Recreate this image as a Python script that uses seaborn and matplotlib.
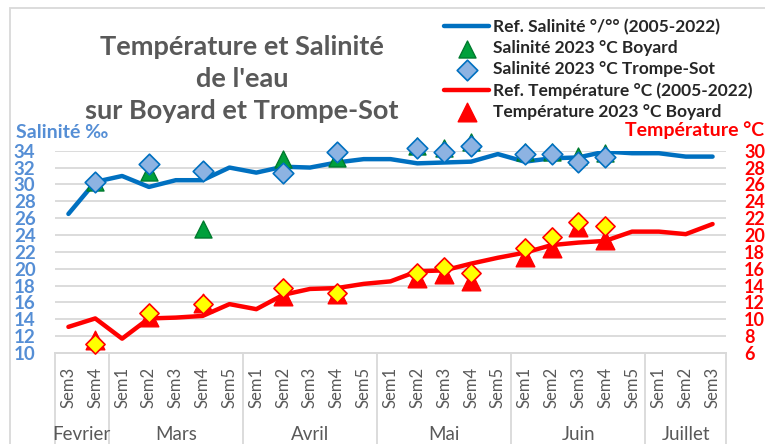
import pandas as pd
import matplotlib.pyplot as plt
import matplotlib.transforms as mtransforms
from matplotlib.patches import Rectangle
import seaborn as sns

# month groups and week labels (x axis)
months = ["Fevrier", "Mars", "Avril", "Mai", "Juin", "Juillet"]
month_weeks = [["Sem3", "Sem4"],
               ["Sem1", "Sem2", "Sem3", "Sem4", "Sem5"],
               ["Sem1", "Sem2", "Sem3", "Sem4", "Sem5"],
               ["Sem1", "Sem2", "Sem3", "Sem4", "Sem5"],
               ["Sem1", "Sem2", "Sem3", "Sem4", "Sem5"],
               ["Sem1", "Sem2", "Sem3"]]

# reference curves 2005-2022 (one value per week)
ref_sal = [26.5, 30.3, 31.0, 29.7, 30.5, 30.5, 32.0, 31.4, 32.1, 32.0, 32.6, 33.0, 33.0,
           32.5, 32.6, 32.7, 33.6, 32.7, 33.1, 33.2, 33.9, 33.7, 33.7, 33.3, 33.3]
ref_temp = [9.1, 10.1, 7.7, 10.1, 10.2, 10.4, 11.8, 11.2, 12.9, 13.6, 13.7, 14.2, 14.5,
            15.7, 15.8, 16.6, 17.3, 17.9, 18.8, 19.1, 19.3, 20.4, 20.4, 20.1, 21.3]

# 2023 measurements (week index of each sample)
obs_idx = [1, 3, 5, 8, 10, 13, 14, 15, 17, 18, 19, 20]
sal_boyard = [30.3, 31.5, 24.7, 33.0, 33.1, 34.6, 34.3, 35.0, 33.9, 33.9, 33.4, 33.7]
sal_trompe = [30.3, 32.4, 31.6, 31.3, 33.8, 34.3, 33.9, 34.6, 33.6, 33.6, 32.7, 33.3]
temp_boyard = [7.6, 10.3, 11.9, 12.8, 13.0, 14.9, 15.4, 14.5, 17.35, 18.4, 21.0, 19.4]
temp_trompe = [7.1, 10.8, 11.8, 13.75, 13.1, 15.45, 16.2, 15.45, 18.5, 19.8, 21.6, 21.1]

week_labels = [w for ws in month_weeks for w in ws]
ref = pd.DataFrame({"x": range(len(week_labels)), "sal": ref_sal, "temp": ref_temp})
obs = pd.DataFrame({"x": obs_idx, "sal_b": sal_boyard, "sal_t": sal_trompe,
                    "temp_b": temp_boyard, "temp_t": temp_trompe})

sns.set_theme(style="white")
plt.rcParams["font.family"] = ["Lato", "DejaVu Sans"]

BLUE = "#0070C0"
LBLUE = "#558ED5"
RED = "#FF0000"
GRID = "#D9D9D9"

fig = plt.figure(figsize=(7.65, 4.44), dpi=100)
fig.subplots_adjust(left=55 / 765, right=726 / 765, bottom=1 - 353 / 444, top=1 - 150.7 / 444)
ax = fig.add_subplot(111)
ax2 = ax.twinx()

# salinity (left axis)
sns.lineplot(data=ref, x="x", y="sal", ax=ax, color=BLUE, lw=3.2,
             label="Ref. Salinité °/°° (2005-2022)", zorder=3)
sns.scatterplot(data=obs, x="x", y="sal_b", ax=ax, marker="^", s=150, color="#00A03C",
                edgecolor="#007A2E", linewidth=1, label="Salinité 2023 °C Boyard",
                zorder=4, clip_on=False)
sns.scatterplot(data=obs, x="x", y="sal_t", ax=ax, marker="D", s=110, color="#8DB3E2",
                edgecolor=BLUE, linewidth=1.2, label="Salinité 2023 °C Trompe-Sot",
                zorder=5, clip_on=False)

# temperature (right axis)
sns.lineplot(data=ref, x="x", y="temp", ax=ax2, color=RED, lw=3.2,
             label="Ref. Température °C (2005-2022)", zorder=3)
sns.scatterplot(data=obs, x="x", y="temp_b", ax=ax2, marker="^", s=180, color=RED,
                edgecolor=RED, linewidth=1, label="Température 2023 °C Boyard",
                zorder=4, clip_on=False)
sns.scatterplot(data=obs, x="x", y="temp_t", ax=ax2, marker="D", s=95, color="#FFFF00",
                edgecolor=RED, linewidth=1.2, zorder=5, clip_on=False, legend=False)

h1, l1 = ax.get_legend_handles_labels()
h2, l2 = ax2.get_legend_handles_labels()
for a in (ax, ax2):
    if a.get_legend() is not None:
        a.get_legend().remove()

# axes ranges and ticks
ax.set_xlim(-0.5, len(week_labels) - 0.5)
ax.set_ylim(10, 34)
ax2.set_ylim(6, 30)
ax.set_yticks(range(10, 35, 2))
ax2.set_yticks(range(6, 31, 2))
ax.set_xticks(range(len(week_labels)))
ax.set_xticklabels(week_labels, rotation=90, color="#595959", fontsize=12, va="top")
ax.tick_params(axis="x", length=0, pad=10)
ax.tick_params(axis="y", length=0, pad=14, labelsize=13.5, labelcolor=LBLUE)
ax2.tick_params(axis="y", length=0, pad=13, labelsize=13, labelcolor=RED)
for lab in ax.get_yticklabels():
    lab.set_fontweight("bold")
for lab in ax2.get_yticklabels():
    lab.set_fontweight("bold")
ax.set_xlabel("")
ax.set_ylabel("")
ax2.set_ylabel("")

ax.yaxis.grid(True, color=GRID, lw=1.3)
ax.set_axisbelow(True)
for a in (ax, ax2):
    for side in ("top", "left", "right"):
        a.spines[side].set_visible(False)
    a.spines["bottom"].set_color(GRID)
    a.spines["bottom"].set_linewidth(1.3)
ax.patch.set_visible(False)

# month separators and labels below the axis
trans = mtransforms.blended_transform_factory(ax.transData, ax.transAxes)
start = -0.5
bounds = [start]
for m, ws in zip(months, month_weeks):
    end = start + len(ws)
    ax.text((start + end) / 2, -0.405, m, transform=trans, ha="center", va="center",
            fontsize=13.5, color="#595959")
    bounds.append(end)
    start = end
for b in bounds:
    ax.plot([b, b], [0, -0.5], transform=trans, color=GRID, lw=1.3, clip_on=False)

# titles and axis captions
fig.text(242 / 765, 1 - 79 / 444, "Température et Salinité\nde l'eau\nsur Boyard et Trompe-Sot",
         ha="center", va="center", fontsize=19.5, fontweight="bold", color="#595959",
         linespacing=1.38)
fig.text(16 / 765, 1 - 132 / 444, "Salinité ‰", ha="left", va="center", fontsize=14,
         fontweight="bold", color=LBLUE)
fig.text(625 / 765, 1 - 130 / 444, "Température °C", ha="left", va="center", fontsize=14,
         fontweight="bold", color=RED)

fig.legend(h1 + h2, l1 + l2, loc="upper left", bbox_to_anchor=(444 / 765, 1 - 19 / 444),
           frameon=False, prop={"weight": "bold", "size": 12.5}, handlelength=2.6,
           handletextpad=0.2, labelspacing=0.29, borderpad=0, borderaxespad=0)

# chart border
fig.patches.append(Rectangle((9.5 / 765, -0.1), 1.1, 1.1 - 8 / 444, transform=fig.transFigure,
                             fill=False, edgecolor=GRID, lw=1.3))

fig.savefig("out.png", dpi=100)
